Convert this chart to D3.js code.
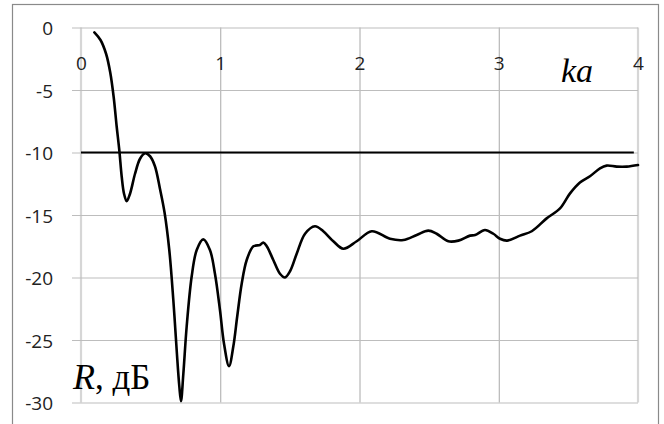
<!DOCTYPE html>
<html><head><meta charset="utf-8">
<script src="https://cdn.jsdelivr.net/npm/d3@7"></script>
<style>
html,body{margin:0;padding:0;background:#fff;}
svg{display:block;}
</style></head>
<body>
<svg id="chart" width="664" height="424"></svg>
<script>
// ---- data ----
const xTicks = [0, 1, 2, 3, 4];
const yTicks = [0, -5, -10, -15, -20, -25, -30];
const xTickLabels = ["0", "1", "2", "3", "4"];
const yTickLabels = ["0", "-5", "-10", "-15", "-20", "-25", "-30"];
const thresholdKa = [0, 3.97];
const thresholdR = [-10, -10];
const ka = [0.096,0.14,0.18,0.21,0.235,0.256,0.275,0.292,0.309,0.328,0.352,0.388,0.424,0.46,0.496,0.531,0.567,
  0.6,0.634,0.663,0.687,0.706,0.718,0.735,0.759,0.795,0.831,0.878,0.926,0.962,0.998,1.027,1.063,1.094,1.122,1.154,
  1.19,1.238,1.285,1.309,1.334,1.381,1.429,1.465,1.501,1.549,1.609,1.68,1.74,1.812,1.884,1.98,2.088,2.219,2.315,2.411,
  2.494,2.554,2.638,2.71,2.794,2.83,2.901,2.961,3.009,3.06,3.153,3.237,3.344,3.44,3.512,3.583,3.655,3.727,3.775,3.847,3.919,4.0];
const R = [-0.39,-1.0,-2.1,-3.6,-5.6,-7.9,-9.8,-11.9,-13.3,-13.9,-13.3,-11.7,-10.5,-10.06,-10.3,-11.1,-12.9,
  -14.8,-17.8,-21.8,-25.8,-28.7,-29.9,-27.7,-23.9,-19.9,-17.8,-16.95,-17.8,-19.7,-22.6,-25.3,-27.1,-25.5,-23.1,-20.5,
  -18.6,-17.5,-17.4,-17.2,-17.5,-18.6,-19.7,-20.0,-19.5,-18.1,-16.5,-15.9,-16.3,-17.1,-17.7,-17.1,-16.3,-16.9,-17.0,-16.6,
  -16.25,-16.5,-17.1,-17.05,-16.65,-16.6,-16.2,-16.5,-16.9,-17.05,-16.65,-16.3,-15.27,-14.47,-13.27,-12.4,-11.9,-11.27,-11.05,-11.13,-11.13,-11.0];

// ---- layout ----
const svg = d3.select("#chart");
const x = d3.scaleLinear().domain([0, 4]).range([81, 638]);
const y = d3.scaleLinear().domain([-30, 0]).range([402.5, 27.5]);

svg.append("rect").attr("x", 0).attr("y", 0).attr("width", 664).attr("height", 424).attr("fill", "#fff");
svg.append("rect").attr("x", 12.5).attr("y", 4.5).attr("width", 646).attr("height", 440)
  .attr("fill", "none").attr("stroke", "#8a8a8a").attr("stroke-width", 1.2);

// vertical gridlines
const xg = svg.append("g").attr("transform", `translate(0,${y(-30)})`)
  .call(d3.axisBottom(x).tickValues([1, 2, 3]).tickSize(-(y(-30) - y(0))).tickFormat(""));
xg.select(".domain").remove();
xg.selectAll("line").attr("stroke", "#a8a8a8").attr("stroke-width", 1);

// plot edges
svg.append("g").selectAll("line").data([0, 4]).join("line")
  .attr("x1", d => x(d)).attr("x2", d => x(d)).attr("y1", y(0)).attr("y2", y(-30))
  .attr("stroke", "#d6d6d6").attr("stroke-width", 2.2);

// horizontal gridlines + y labels
const yg = svg.append("g").attr("transform", "translate(72,0)")
  .call(d3.axisLeft(y).tickValues(yTicks).tickSize(-(x(4) - 72)).tickPadding(19)
    .tickFormat((d, i) => yTickLabels[i]));
yg.select(".domain").remove();
yg.selectAll("line").attr("stroke", "#bdbdbd").attr("stroke-width", 1);
yg.selectAll("text").attr("font-family", "'Open Sans', sans-serif").attr("font-size", 19)
  .attr("fill", "#222").attr("dy", "0.38em");

// x labels (axis at y=0)
const xl = svg.append("g").attr("transform", `translate(0,${y(0)})`)
  .call(d3.axisBottom(x).tickValues(xTicks).tickSize(0).tickPadding(0)
    .tickFormat((d, i) => xTickLabels[i]));
xl.select(".domain").remove();
xl.selectAll("line").remove();
xl.selectAll("text").attr("font-family", "'Open Sans', sans-serif").attr("font-size", 19)
  .attr("fill", "#222").attr("y", 42).attr("dy", 0);

// threshold line
svg.append("path")
  .datum(thresholdKa.map((k, i) => [k, thresholdR[i]]))
  .attr("d", d3.line().x(d => x(d[0])).y(d => y(d[1])))
  .attr("stroke", "#000").attr("stroke-width", 2.2).attr("fill", "none");

// curve
svg.append("path")
  .datum(ka.map((k, i) => [k, R[i]]))
  .attr("d", d3.line().x(d => x(d[0])).y(d => y(d[1])).curve(d3.curveCatmullRom.alpha(0.5)))
  .attr("stroke", "#000").attr("stroke-width", 2.6).attr("fill", "none")
  .attr("stroke-linejoin", "round").attr("stroke-linecap", "round");

// axis titles
svg.append("text").attr("x", 561).attr("y", 82)
  .attr("font-family", "'Liberation Serif', 'Times New Roman', serif").attr("font-style", "italic")
  .attr("font-size", 34).attr("fill", "#000").text("ka");
const rt = svg.append("text").attr("x", 73).attr("y", 389)
  .attr("font-family", "'Liberation Serif', 'Times New Roman', serif").attr("fill", "#000");
rt.append("tspan").attr("font-style", "italic").attr("font-size", 36).text("R");
rt.append("tspan").attr("font-size", 35).text(", дБ");
</script>
</body></html>
